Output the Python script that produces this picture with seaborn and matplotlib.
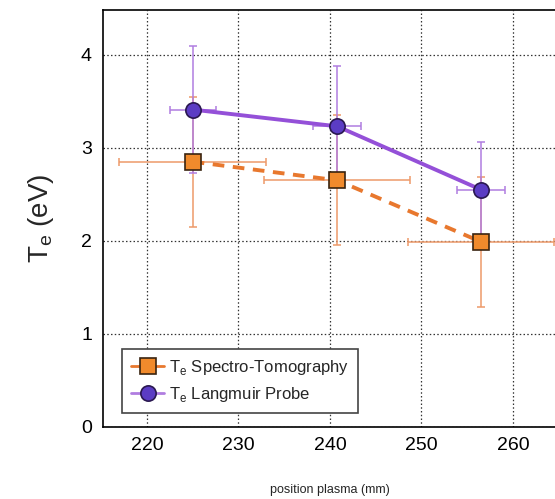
import matplotlib
matplotlib.use("Agg")
import matplotlib.pyplot as plt
import seaborn as sns
import pandas as pd
import numpy as np
from matplotlib.lines import Line2D

# Data
positions_st = [225.0, 240.8, 256.5]
te_st = [2.85, 2.65, 1.99]
te_st_yerr = [0.70, 0.70, 0.70]
pos_st_xerr = [8.0, 8.0, 8.0]

positions_lp = [225.0, 240.8, 256.5]
te_lp = [3.41, 3.23, 2.55]
te_lp_yerr = [0.68, 0.65, 0.51]
pos_lp_xerr = [2.5, 2.6, 2.6]

label_st = r"T$_\mathrm{e}$ Spectro-Tomography"
label_lp = r"T$_\mathrm{e}$ Langmuir Probe"

xticks = [220, 230, 240, 250, 260]
yticks = [0, 1, 2, 3, 4]

sns.set_style("white")
plt.rcParams['font.family'] = ['Liberation Sans', 'DejaVu Sans']
plt.rcParams['mathtext.fontset'] = 'custom'
plt.rcParams['mathtext.rm'] = 'Liberation Sans'

orange_line = "#E8782E"
orange_fill = "#F08A2C"
orange_err = "#EE9A6A"
purple_line = "#9450D8"
purple_fill = "#5B3CC4"
purple_err = "#B07DE0"

fig = plt.figure(figsize=(5.55, 4.99), dpi=100)
ax = fig.add_axes([0.1856, 0.1443, 0.8144, 0.8357])

df = pd.DataFrame({
    "pos": positions_st + positions_lp,
    "te": te_st + te_lp,
    "series": [label_st] * len(te_st) + [label_lp] * len(te_lp),
})

# error bars
ax.errorbar(positions_st, te_st, yerr=te_st_yerr, xerr=pos_st_xerr, fmt="none",
            ecolor=orange_err, elinewidth=1.1, capsize=3, capthick=1.1, zorder=2)
ax.errorbar(positions_lp, te_lp, yerr=te_lp_yerr, xerr=pos_lp_xerr, fmt="none",
            ecolor=purple_err, elinewidth=1.1, capsize=3, capthick=1.1, zorder=2)

sns.lineplot(data=df, x="pos", y="te", hue="series", style="series",
             palette={label_st: orange_line, label_lp: purple_line},
             dashes={label_st: (3, 2.2), label_lp: ""},
             markers={label_st: "s", label_lp: "o"},
             linewidth=2.8, markersize=11, ax=ax, legend=False, zorder=3)

for line in ax.get_lines():
    c = line.get_color()
    if matplotlib.colors.same_color(c, orange_line):
        line.set_markerfacecolor(orange_fill)
        line.set_markeredgecolor("#3a2410")
        line.set_markeredgewidth(1.2)
    elif matplotlib.colors.same_color(c, purple_line):
        line.set_markerfacecolor(purple_fill)
        line.set_markeredgecolor("#2a1850")
        line.set_markeredgewidth(1.2)

handles = [
    Line2D([], [], color=orange_line, lw=2, marker="s", markersize=11,
           markerfacecolor=orange_fill, markeredgecolor="#3a2410", markeredgewidth=1.2),
    Line2D([], [], color=purple_err, lw=2, marker="o", markersize=11,
           markerfacecolor=purple_fill, markeredgecolor="#2a1850", markeredgewidth=1.2),
]
leg = ax.legend(handles, [label_st, label_lp], loc="lower left",
                bbox_to_anchor=(0.042, 0.034), borderaxespad=0, fontsize=12,
                frameon=True, fancybox=False, edgecolor="#444444", framealpha=1,
                handlelength=2.0, borderpad=0.55, labelspacing=0.45, handletextpad=0.25)
leg.get_frame().set_linewidth(1.2)

ax.set_xlim(215.2, 264.6)
ax.set_ylim(0, 4.48)
ax.set_xticks(xticks)
ax.set_yticks(yticks)
ax.tick_params(axis="both", direction="in", length=5, width=1, labelsize=14,
               colors="black", pad=8)
ax.tick_params(axis="x", pad=7)
ax.grid(True, color="black", linestyle=(0, (1.2, 1.8)), linewidth=0.9, alpha=0.8)
for s in ["left", "bottom", "top"]:
    ax.spines[s].set_color("black")
    ax.spines[s].set_linewidth(1.2)
ax.spines["right"].set_visible(False)

ax.set_ylabel(r"T$_\mathrm{e}$ (eV)", fontsize=20, labelpad=18)
ax.set_xlabel("position plasma (mm)", fontsize=9)
ax.xaxis.set_label_coords(0.502, -0.137)

fig.savefig("out.png", dpi=100)
